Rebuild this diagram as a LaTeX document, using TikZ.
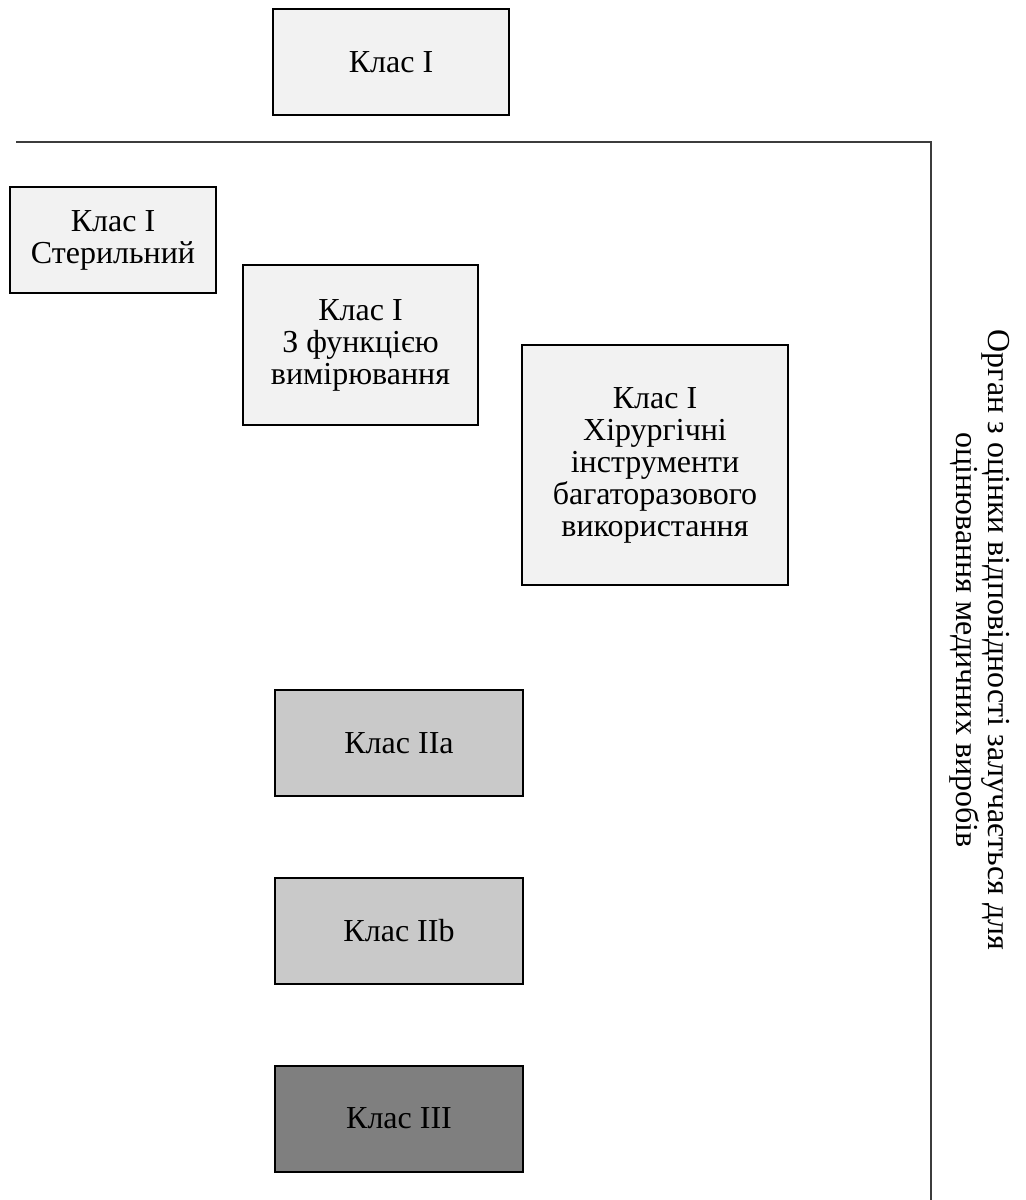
\documentclass[tikz,border=0pt]{standalone}
\usepackage{fontspec}
\setmainfont{Liberation Serif}
\usepackage{tikz}
\usetikzlibrary{positioning}
\usepackage{xcolor}
\definecolor{lightclass}{RGB}{242,242,242}
\definecolor{midclass}{RGB}{201,201,201}
\definecolor{darkclass}{RGB}{127,127,127}
\definecolor{framegray}{RGB}{60,60,60}
\tikzset{
  classbox/.style={rectangle, draw=black, line width=0.9pt, fill=lightclass,
                   inner sep=0pt, align=center, font=\fontsize{16}{16}\selectfont},
  classboxmid/.style={classbox, fill=midclass, minimum width=124pt, minimum height=53pt},
  classboxdark/.style={classboxmid, fill=darkclass},
  frameline/.style={line width=1pt, framegray},
  sidelabel/.style={rotate=-90, align=center, font=\fontsize{16}{16}\selectfont},
}
\begin{document}
\begin{tikzpicture}[x=0.5pt, y=-0.5pt, node distance=40pt]
\useasboundingbox (0,0) rectangle (1026,1200);
% class I group
\node[classbox, minimum width=118pt, minimum height=53pt] (cls) at (391,62) {Клас I};
\node[classbox, minimum width=103pt, minimum height=53pt] (ster) at (113,240) {Клас I\\Стерильний};
\node[classbox, minimum width=117.5pt, minimum height=80pt] (meas) at (360.5,345) {Клас I\\З функцією\\вимірювання};
\node[classbox, minimum width=133pt, minimum height=120pt] (surg) at (655,465)
  {Клас I\\Хірургічні\\інструменти\\багаторазового\\використання};
% higher classes
\node[classboxmid] (clsIIa) at (399,743) {Клас IIa};
\node[classboxmid, below=of clsIIa] (clsIIb) {Клас IIb};
\node[classboxdark, below=of clsIIb] (clsIII) {Клас III};
% notified body frame
\coordinate (fleft) at (16,142);
\coordinate (fcorner) at (931,142);
\coordinate (fbottom) at (931,1200);
\draw[frameline] (fleft) -- (fcorner) -- (fbottom);
\node[sidelabel] (body) at (980,640)
  {Орган з оцінки відповідності залучається для\\оцінювання медичних виробів};
\end{tikzpicture}
\end{document}
